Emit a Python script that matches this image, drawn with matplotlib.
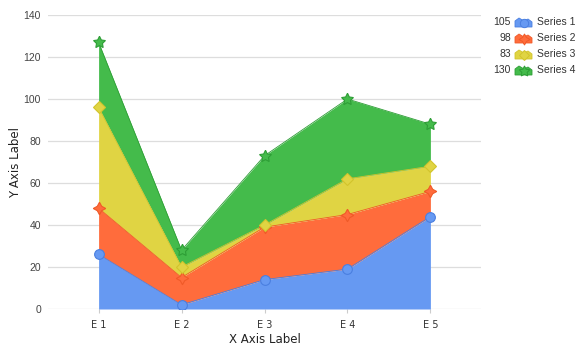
import matplotlib
matplotlib.use('Agg')
from matplotlib import pyplot as plt
from matplotlib.patches import Polygon
import numpy as np

categories = ['E 1', 'E 2', 'E 3', 'E 4', 'E 5']
series_names = ['Series 1', 'Series 2', 'Series 3', 'Series 4']
series_1 = [26, 2, 14, 19, 44]
series_2 = [22, 13, 25, 26, 12]
series_3 = [48, 5, 1, 17, 12]
series_4 = [31, 8, 33, 38, 20]
y_ticks = [0, 20, 40, 60, 80, 100, 120, 140]

fills = ['#6699f2', '#ff6c3c', '#e0d443', '#44bb4b']
edges = ['#4a7fe0', '#f05a28', '#d2c42c', '#2e9e36']
markers = ['o', (4, 1, 0), 'D', (5, 1, 0)]
msizes = [7, 9, 6, 9]


def main():
    fig = plt.figure(figsize=(5.84, 3.5), dpi=100)
    ax = fig.add_axes([48 / 584, 41 / 350, 433 / 584, 294 / 350])

    x = np.arange(len(categories))
    data = [series_1, series_2, series_3, series_4]
    base = np.zeros(len(categories))
    for vals, fc, ec, mk, ms in zip(data, fills, edges, markers, msizes):
        top = base + np.array(vals)
        ax.fill_between(x, base, top, color=fc, linewidth=0, zorder=2)
        ax.plot(x, top, color=ec, linewidth=0.6, zorder=3)
        ax.plot(x, top, linestyle='none', marker=mk, markersize=ms,
                markerfacecolor=fc, markeredgecolor=ec, markeredgewidth=0.8,
                zorder=4)
        base = top

    ax.set_xlim(-0.61, 4.61)
    ax.set_ylim(0, 140)
    ax.set_yticks(y_ticks)
    ax.set_xticks(x)
    ax.set_xticklabels(categories, family='DejaVu Sans', fontsize=7, color='#333333')
    ax.tick_params(axis='y', length=0, pad=5, labelsize=7.5, labelcolor='#444444')
    ax.tick_params(axis='x', length=3, color='#cccccc', pad=5)
    for lbl in ax.get_yticklabels():
        lbl.set_family('Liberation Sans')
    ax.grid(axis='y', color='#dddddd', linewidth=0.9, zorder=0)
    ax.set_axisbelow(True)
    for s in ax.spines.values():
        s.set_visible(False)

    ax.set_xlabel('X Axis Label', family='DejaVu Sans', fontsize=8.5,
                  color='#222222', labelpad=2)
    ax.set_ylabel('Y Axis Label', family='DejaVu Sans', fontsize=8.5,
                  color='#222222', labelpad=1)

    # legend: total per series, small area icon, name
    W, H = 584.0, 350.0
    for i, (vals, name) in enumerate(zip(data, series_names)):
        yc = 22 + i * 16
        fig.text(511 / W, 1 - yc / H, str(sum(vals)), ha='right', va='center',
                 family='Liberation Sans', fontsize=7.5, color='#333333')
        icon = [(515, yc + 5), (515, yc - 1), (519, yc - 4), (524, yc - 1),
                (528, yc - 3), (532, yc), (532, yc + 5)]
        fig.patches.append(Polygon([(px / W, 1 - py / H) for px, py in icon],
                                   closed=True, transform=fig.transFigure,
                                   facecolor=fills[i], edgecolor=edges[i],
                                   linewidth=0.6))
        fig.lines.append(plt.Line2D([524 / W], [1 - (yc + 1) / H],
                                    transform=fig.transFigure, marker=markers[i],
                                    markersize=msizes[i] - 1, markerfacecolor=fills[i],
                                    markeredgecolor=edges[i], markeredgewidth=0.7,
                                    linestyle='none'))
        fig.text(537 / W, 1 - yc / H, name, ha='left', va='center',
                 family='Liberation Sans', fontsize=7.5, color='#333333')

    fig.savefig('out.png', dpi=100)


if __name__ == '__main__':
    main()
